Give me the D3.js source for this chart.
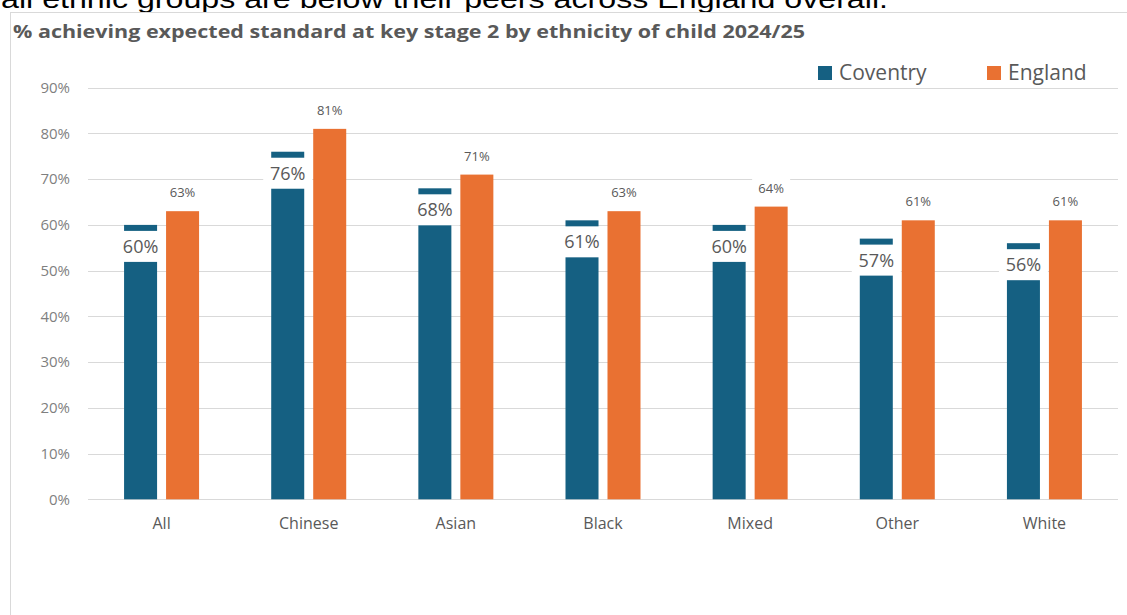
<!DOCTYPE html>
<html><head><meta charset="utf-8">
<script src="https://cdn.jsdelivr.net/npm/d3@7"></script>
<style>html,body{margin:0;padding:0;background:#fff;}svg{display:block;}</style>
</head><body>
<svg id="c" width="1127" height="615"></svg>
<script>
const categories = ["All","Chinese","Asian","Black","Mixed","Other","White"];
const seriesNames = ["Coventry","England"];
const coventry = [0.60,0.76,0.68,0.61,0.60,0.57,0.56];
const england  = [0.63,0.81,0.71,0.63,0.64,0.61,0.61];
const yTicks = [0,0.1,0.2,0.3,0.4,0.5,0.6,0.7,0.8,0.9];
const colors = ["#156082","#E97132"];
const titleText = "% achieving expected standard at key stage 2 by ethnicity of child 2024/25";
const topText = "all ethnic groups are below their peers across England overall.";

const svg = d3.select("#c");
const font = "'Open Sans', sans-serif";

// cut-off sentence above the chart (cropped in the reference)
svg.append("text").attr("x",1).attr("y",8)
  .attr("font-family","'Liberation Sans', Arial, sans-serif").attr("font-size",26)
  .attr("fill","#000").attr("textLength",887).attr("lengthAdjust","spacingAndGlyphs")
  .text(topText);

// chart border
svg.append("line").attr("x1",10).attr("x2",1127).attr("y1",12.5).attr("y2",12.5).attr("stroke","#d9d9d9");
svg.append("line").attr("x1",10.5).attr("x2",10.5).attr("y1",12).attr("y2",615).attr("stroke","#d9d9d9");

// title
svg.append("text").attr("x",13).attr("y",38)
  .attr("font-family",font).attr("font-weight","bold").attr("font-size",18)
  .attr("fill","#595959").attr("textLength",792).attr("lengthAdjust","spacingAndGlyphs")
  .text(titleText);

const y = d3.scaleLinear().domain([0,0.9]).range([499.3,87.7]);
const x0 = d3.scaleBand().domain(categories).range([88,1118]).padding(0);
const groupW = 75;
const x1 = d3.scaleBand().domain(seriesNames).range([0,groupW]).paddingInner(0.214).paddingOuter(0);

// gridlines
svg.append("g").selectAll("line").data(yTicks).join("line")
  .attr("x1",88).attr("x2",1118)
  .attr("y1",d=>Math.round(y(d))+0.5).attr("y2",d=>Math.round(y(d))+0.5)
  .attr("stroke","#d9d9d9").attr("stroke-width",1);

// y axis labels
const yAxis = d3.axisLeft(y).tickValues(yTicks).tickFormat(d3.format(".0%")).tickSize(0).tickPadding(0);
const ya = svg.append("g").attr("transform","translate(70,0)").call(yAxis);
ya.select(".domain").remove();
ya.selectAll("text").attr("font-family",font).attr("font-size",15).attr("fill","#7f7f7f");

// x axis labels
const xAxis = d3.axisBottom(x0).tickSize(0).tickPadding(0);
const xa = svg.append("g").attr("transform","translate(0,518)").call(xAxis);
xa.select(".domain").remove();
xa.selectAll("text").attr("font-family",font).attr("font-size",16).attr("fill","#595959");

const rows = categories.map((c,i)=>({cat:c, vals:[{s:"Coventry",v:coventry[i],k:0},{s:"England",v:england[i],k:1}]}));
const groups = svg.append("g").selectAll("g").data(rows).join("g")
  .attr("transform",d=>`translate(${x0(d.cat)+(x0.bandwidth()-groupW)/2},0)`);

groups.selectAll("rect.bar").data(d=>d.vals).join("rect").attr("class","bar")
  .attr("x",d=>x1(d.s)).attr("width",x1.bandwidth())
  .attr("y",d=>y(d.v)).attr("height",d=>y(0)-y(d.v))
  .attr("fill",d=>colors[d.k]);

// Coventry labels (white boxes inside end)
const cov = groups.append("g").datum(d=>d.vals[0]);
cov.append("rect")
  .attr("x",d=>x1(d.s)+x1.bandwidth()/2-24.5).attr("width",49)
  .attr("y",d=>y(d.v)+6).attr("height",31).attr("fill","#fff");
cov.append("text")
  .attr("x",d=>x1(d.s)+x1.bandwidth()/2).attr("y",d=>y(d.v)+28)
  .attr("text-anchor","middle").attr("font-family",font).attr("font-size",18).attr("fill","#595959")
  .text(d=>d3.format(".0%")(d.v));

// England labels (above bars)
const eng = groups.append("g").datum(d=>d.vals[1]);
eng.append("rect")
  .attr("x",d=>x1(d.s)+x1.bandwidth()/2-19).attr("width",38)
  .attr("y",d=>y(d.v)-31).attr("height",22).attr("fill","#fff");
eng.append("text")
  .attr("x",d=>x1(d.s)+x1.bandwidth()/2).attr("y",d=>y(d.v)-14)
  .attr("text-anchor","middle").attr("font-family",font).attr("font-size",13).attr("fill","#595959")
  .text(d=>d3.format(".0%")(d.v));

// legend
const legX = [818,987];
const leg = svg.append("g").selectAll("g").data(seriesNames).join("g")
  .attr("transform",(d,i)=>`translate(${legX[i]},0)`);
leg.append("rect").attr("x",0).attr("y",66).attr("width",14).attr("height",14).attr("fill",(d,i)=>colors[i]);
leg.append("text").attr("x",21).attr("y",80).attr("font-family",font).attr("font-size",21)
  .attr("fill","#595959").text(d=>d);
</script>
</body></html>
